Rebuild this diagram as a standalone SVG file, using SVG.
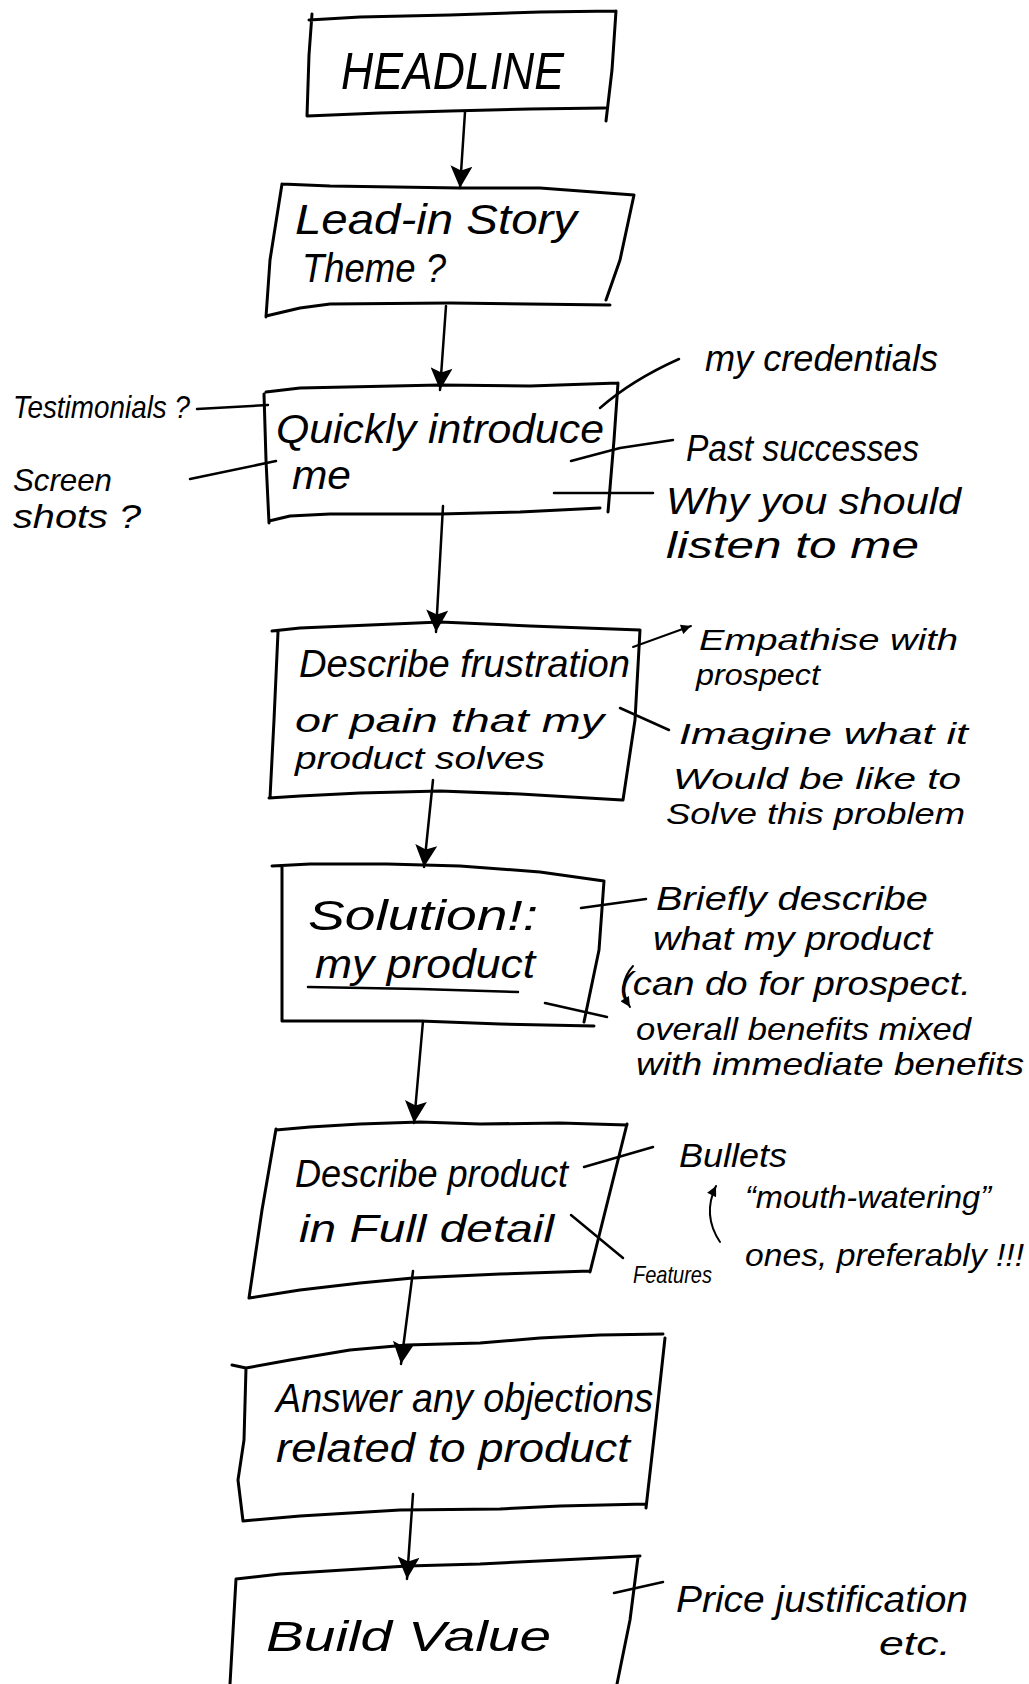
<svg xmlns="http://www.w3.org/2000/svg" width="1029" height="1684" viewBox="0 0 1029 1684">
<style>
.box{fill:none;stroke:#000;stroke-width:3;stroke-linejoin:round;stroke-linecap:round}
.ln{fill:none;stroke:#000;stroke-width:2.5;stroke-linecap:round;stroke-linejoin:round}
.arr{fill:none;stroke:#000;stroke-width:2.5;stroke-linecap:round;marker-end:url(#head)}
.sm{fill:none;stroke:#000;stroke-width:2;stroke-linecap:round;marker-end:url(#small)}
text{font-family:"Liberation Sans","DejaVu Sans",sans-serif;font-style:italic;fill:#000}
</style>
<defs>
<marker id="head" viewBox="0 0 10 10" refX="10" refY="5" markerWidth="34" markerHeight="22" markerUnits="userSpaceOnUse" orient="auto">
<path d="M0,0 L10,5 L0,10 L2,5 z" fill="#000"/>
</marker>
<marker id="small" viewBox="0 0 10 10" refX="10" refY="5" markerWidth="12" markerHeight="10" markerUnits="userSpaceOnUse" orient="auto">
<path d="M0,0 L10,5 L0,10 z" fill="#000"/>
</marker>
</defs>
<rect width="1029" height="1684" fill="#fff"/>

<g id="connectors">
<path class="arr" d="M465,112 L460,188"/>
<path class="arr" d="M446,306 L440,390"/>
<path class="arr" d="M443,506 L436,632"/>
<path class="arr" d="M433,780 L424,867"/>
<path class="arr" d="M423,1021 L414,1123"/>
<path class="arr" d="M413,1271 L401,1364"/>
<path class="arr" d="M413,1494 L407,1579"/>
<path class="ln" d="M197,409 L268,405"/>
<path class="ln" d="M190,479 L276,461"/>
<path class="ln" d="M679,359 Q632,380 600,408"/>
<path class="ln" d="M673,440 L620,448 L571,461"/>
<path class="ln" d="M653,493 L554,493"/>
<path class="sm" d="M633,647 L691,626"/>
<path class="ln" d="M669,730 L620,708"/>
<path class="ln" d="M646,899 L581,908"/>
<path class="ln" d="M545,1003 L607,1017"/>
<path class="sm" d="M633,966 Q616,985 630,1007"/>
<path class="ln" d="M653,1147 L584,1167"/>
<path class="sm" d="M720,1242 Q702,1215 716,1186"/>
<path class="ln" d="M571,1215 L623,1258"/>
<path class="ln" d="M663,1582 L614,1593"/>
</g>

<g id="headline">
<path class="box" d="M309,20 L360,17 L450,15 L540,12 L616,11 M616,11 L612,70 L606,121 M605,108 L530,109 L450,111 L380,113 L307,116 M307,116 L309,55 L312,14"/>
<text x="341" y="89" font-size="52" textLength="223" lengthAdjust="spacingAndGlyphs">HEADLINE</text>
</g>

<g id="lead-in">
<path class="box" d="M282,184 L330,186 L460,188 L540,188 L634,195 M282,184 L270,260 L266,317 M266,316 L300,308 L330,304 L450,303 L610,305 M634,195 L620,260 L606,300"/>
<text x="295" y="234" font-size="42" textLength="282" lengthAdjust="spacingAndGlyphs">Lead-in Story</text>
<text x="302" y="282" font-size="40" textLength="144" lengthAdjust="spacingAndGlyphs">Theme ?</text>
</g>

<g id="introduce">
<path class="box" d="M266,392 L300,388 L440,385 L530,386 L618,383 M618,383 L614,440 L608,512 M264,394 L266,460 L269,523 M269,521 L290,516 L330,514 L440,514 L520,512 L600,508"/>
<text x="276" y="443" font-size="40" textLength="328" lengthAdjust="spacingAndGlyphs">Quickly introduce</text>
<text x="292" y="489" font-size="40" textLength="59" lengthAdjust="spacingAndGlyphs">me</text>
</g>
<g id="note-testimonials"><text x="13" y="418" font-size="32" textLength="177" lengthAdjust="spacingAndGlyphs">Testimonials ?</text></g>
<g id="note-screenshots">
<text x="13" y="491" font-size="32" textLength="99" lengthAdjust="spacingAndGlyphs">Screen</text>
<text x="13" y="528" font-size="34" textLength="128" lengthAdjust="spacingAndGlyphs">shots ?</text>
</g>
<g id="note-credentials"><text x="705" y="371" font-size="36" textLength="233" lengthAdjust="spacingAndGlyphs">my credentials</text></g>
<g id="note-successes"><text x="686" y="461" font-size="36" textLength="233" lengthAdjust="spacingAndGlyphs">Past successes</text></g>
<g id="note-why">
<text x="666" y="514" font-size="36" textLength="295" lengthAdjust="spacingAndGlyphs">Why you should</text>
<text x="666" y="558" font-size="36" textLength="253" lengthAdjust="spacingAndGlyphs">listen to me</text>
</g>

<g id="frustration">
<path class="box" d="M272,631 L300,628 L370,625 L440,622 L530,626 L640,630 M278,632 L274,720 L270,798 M269,798 L300,796 L360,793 L440,791 L520,794 L622,800 M640,630 L635,720 L623,800"/>
<text x="299" y="677" font-size="38" textLength="331" lengthAdjust="spacingAndGlyphs">Describe frustration</text>
<text x="295" y="732" font-size="33" textLength="309" lengthAdjust="spacingAndGlyphs">or pain that my</text>
<text x="295" y="769" font-size="32" textLength="250" lengthAdjust="spacingAndGlyphs">product solves</text>
</g>
<g id="note-empathise">
<text x="699" y="650" font-size="30" textLength="259" lengthAdjust="spacingAndGlyphs">Empathise with</text>
<text x="696" y="685" font-size="30" textLength="124" lengthAdjust="spacingAndGlyphs">prospect</text>
</g>
<g id="note-imagine">
<text x="679" y="744" font-size="30" textLength="289" lengthAdjust="spacingAndGlyphs">Imagine what it</text>
<text x="673" y="789" font-size="30" textLength="288" lengthAdjust="spacingAndGlyphs">Would be like to</text>
<text x="666" y="824" font-size="30" textLength="299" lengthAdjust="spacingAndGlyphs">Solve this problem</text>
</g>

<g id="solution">
<path class="box" d="M272,866 L310,864 L387,864 L460,866 L540,872 L604,881 M282,867 L282,1021 M282,1021 L330,1021 L420,1021 L500,1024 L594,1026 M604,881 L599,950 L584,1022"/>
<text x="308" y="930" font-size="42" textLength="230" lengthAdjust="spacingAndGlyphs">Solution!:</text>
<text x="315" y="978" font-size="40" textLength="220" lengthAdjust="spacingAndGlyphs">my product</text>
<path class="ln" d="M308,987 L420,989 L518,992"/>
</g>
<g id="note-briefly">
<text x="656" y="910" font-size="34" textLength="272" lengthAdjust="spacingAndGlyphs">Briefly describe</text>
<text x="653" y="950" font-size="34" textLength="279" lengthAdjust="spacingAndGlyphs">what my product</text>
<text x="620" y="995" font-size="34" textLength="351" lengthAdjust="spacingAndGlyphs">(can do for prospect.</text>
</g>
<g id="note-benefits">
<text x="636" y="1040" font-size="32" textLength="335" lengthAdjust="spacingAndGlyphs">overall benefits mixed</text>
<text x="636" y="1075" font-size="32" textLength="388" lengthAdjust="spacingAndGlyphs">with immediate benefits</text>
</g>

<g id="describe-product">
<path class="box" d="M276,1130 L310,1127 L360,1124 L420,1122 L480,1124 L560,1123 L627,1125 M276,1129 L262,1210 L249,1298 M249,1298 L300,1290 L360,1283 L413,1278 L500,1274 L590,1271 M627,1124 L608,1200 L590,1272"/>
<text x="295" y="1187" font-size="38" textLength="273" lengthAdjust="spacingAndGlyphs">Describe product</text>
<text x="299" y="1242" font-size="38" textLength="255" lengthAdjust="spacingAndGlyphs">in Full detail</text>
</g>
<g id="note-bullets">
<text x="679" y="1167" font-size="34" textLength="108" lengthAdjust="spacingAndGlyphs">Bullets</text>
<text x="745" y="1208" font-size="32" textLength="246" lengthAdjust="spacingAndGlyphs">“mouth-watering”</text>
<text x="745" y="1266" font-size="32" textLength="279" lengthAdjust="spacingAndGlyphs">ones, preferably !!!</text>
</g>
<g id="note-features"><text x="633" y="1283" font-size="24" textLength="79" lengthAdjust="spacingAndGlyphs">Features</text></g>

<g id="objections">
<path class="box" d="M232,1365 L246,1368 L290,1360 L350,1350 L407,1345 L480,1343 L540,1338 L600,1335 L663,1334 M665,1338 L656,1420 L646,1508 M243,1521 L300,1516 L400,1510 L500,1509 L560,1506 L646,1504 M246,1368 L244,1440 L238,1480 L243,1521"/>
<text x="276" y="1412" font-size="40" textLength="377" lengthAdjust="spacingAndGlyphs">Answer any objections</text>
<text x="276" y="1462" font-size="40" textLength="354" lengthAdjust="spacingAndGlyphs">related to product</text>
</g>

<g id="build-value">
<path class="box" d="M236,1579 L280,1574 L360,1569 L407,1566 L480,1564 L560,1560 L640,1556 M236,1579 L230,1684 M638,1557 L630,1620 L617,1684"/>
<text x="266" y="1651" font-size="42" textLength="285" lengthAdjust="spacingAndGlyphs">Build Value</text>
</g>
<g id="note-price">
<text x="676" y="1612" font-size="36" textLength="292" lengthAdjust="spacingAndGlyphs">Price justification</text>
<text x="879" y="1655" font-size="34" textLength="72" lengthAdjust="spacingAndGlyphs">etc.</text>
</g>
</svg>
